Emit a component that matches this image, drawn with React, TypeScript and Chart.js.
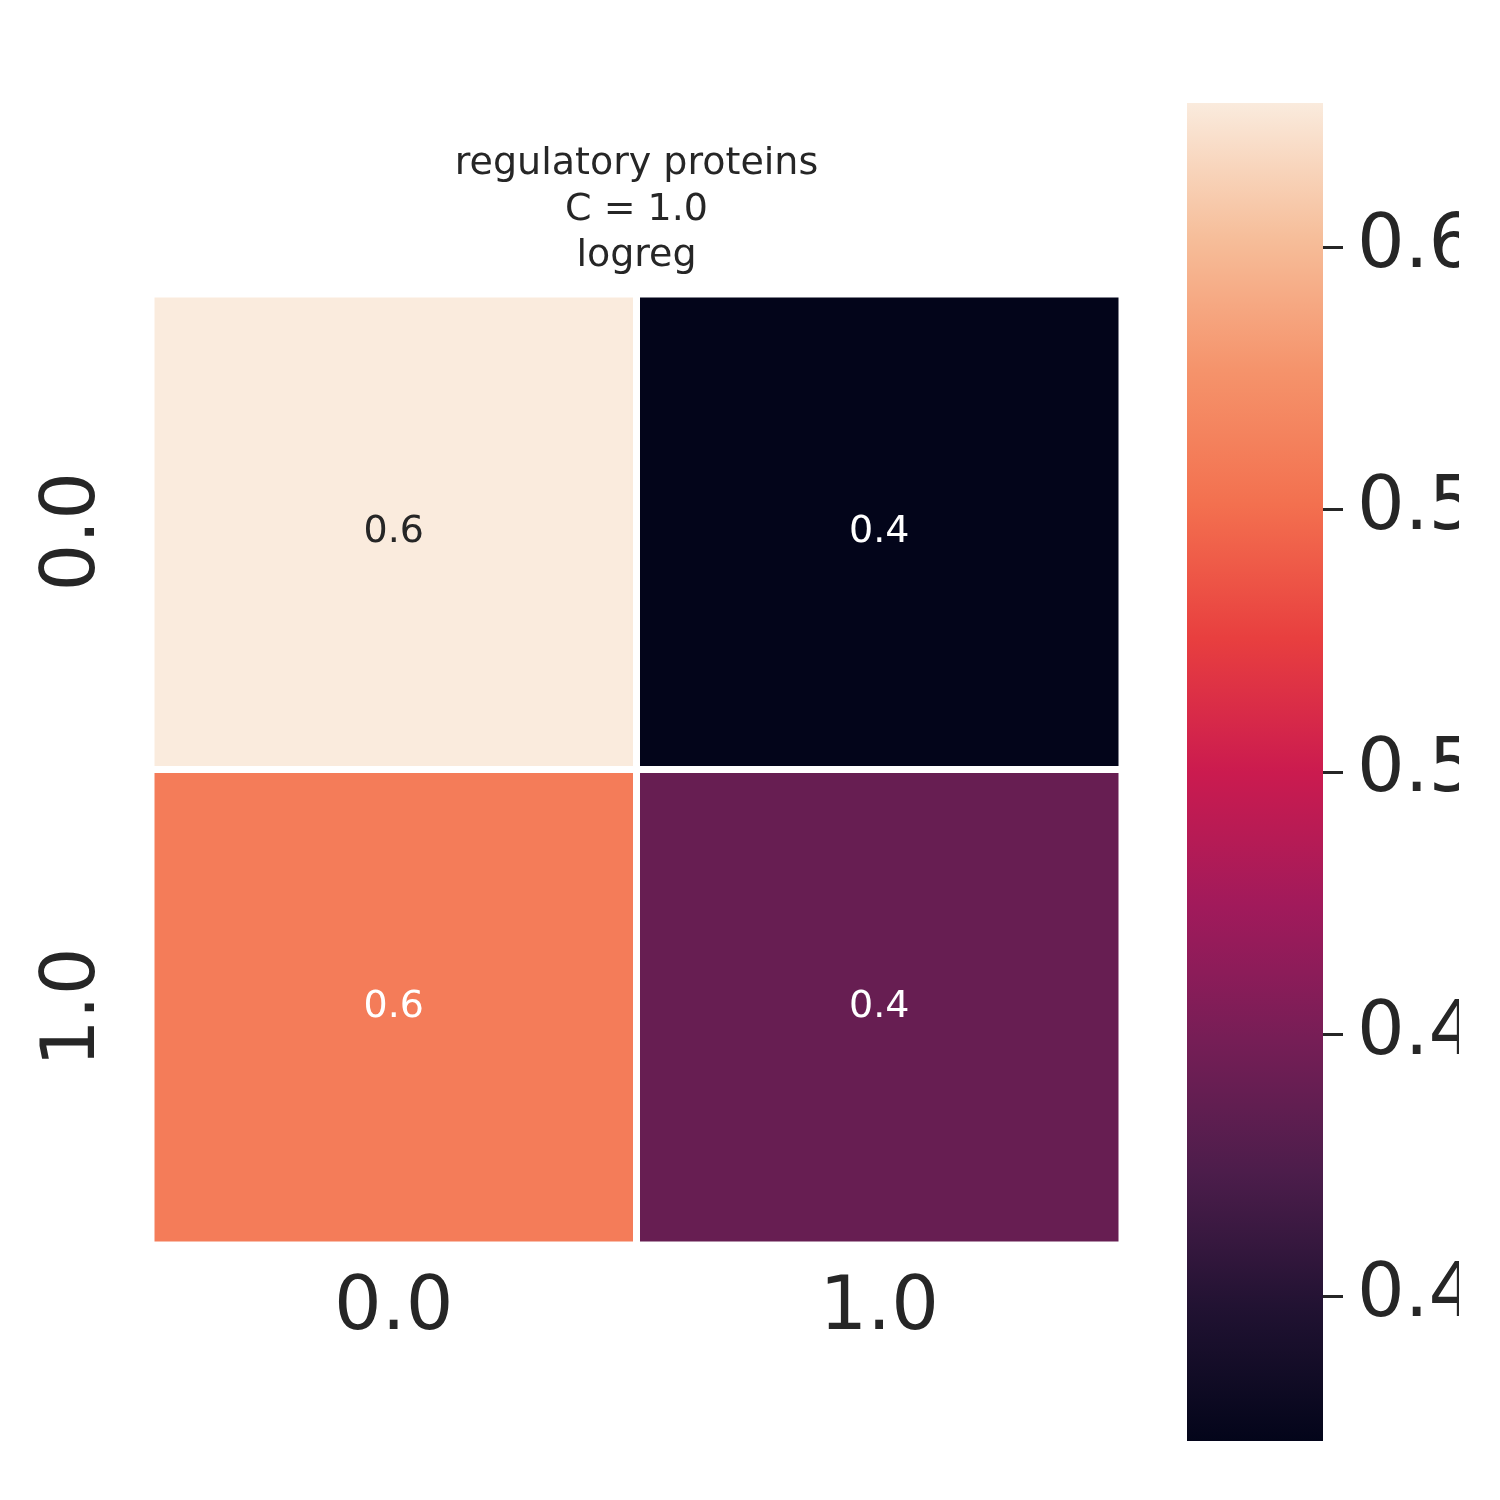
import { useEffect, useRef } from "react";
import { Chart, registerables } from "chart.js";

Chart.register(...registerables);

const xLabels = ["0.0", "1.0"];
const yLabels = ["0.0", "1.0"];
const cellValues = [
  [0.6276, 0.3724],
  [0.56, 0.44],
];
const cellText = [
  ["0.6", "0.4"],
  ["0.6", "0.4"],
];
const titleLines = ["regulatory proteins", "C = 1.0", "logreg"];
const vmin = 0.3724;
const vmax = 0.6276;
const cbTicks = [0.4, 0.45, 0.5, 0.55, 0.6];

const ROCKET: Array<[number, [number, number, number]]> = [
  [0.0, [3, 5, 26]],
  [0.1, [33, 18, 50]],
  [0.2, [76, 29, 75]],
  [0.3, [118, 30, 86]],
  [0.4, [161, 26, 91]],
  [0.5, [203, 27, 79]],
  [0.6, [232, 63, 63]],
  [0.7, [243, 112, 79]],
  [0.8, [245, 147, 107]],
  [0.9, [246, 190, 154]],
  [1.0, [250, 235, 221]],
];

function rocket(t: number): string {
  t = Math.max(0, Math.min(1, t));
  for (let i = 1; i < ROCKET.length; i++) {
    const [t1, c1] = ROCKET[i];
    const [t0, c0] = ROCKET[i - 1];
    if (t <= t1) {
      const f = (t - t0) / (t1 - t0);
      const c = c0.map((v, k) => Math.round(v + (c1[k] - v) * f));
      return `rgb(${c[0]},${c[1]},${c[2]})`;
    }
  }
  return "rgb(250,235,221)";
}

const FONT = "'DejaVu Sans', sans-serif";

export default function App() {
  const mainRef = useRef<HTMLCanvasElement>(null);
  const cbRef = useRef<HTMLCanvasElement>(null);

  useEffect(() => {
    if (!mainRef.current || !cbRef.current) return;

    const heatPlugin = {
      id: "heat",
      beforeDatasetsDraw(chart: any) {
        const { ctx, scales } = chart;
        const xs = scales.x;
        const ys = scales.y;
        ctx.save();
        cellValues.forEach((row, r) => {
          row.forEach((v, c) => {
            const x0 = xs.getPixelForValue(c);
            const x1 = xs.getPixelForValue(c + 1);
            const y0 = ys.getPixelForValue(r);
            const y1 = ys.getPixelForValue(r + 1);
            const t = (v - vmin) / (vmax - vmin);
            ctx.fillStyle = rocket(t);
            ctx.fillRect(x0, y0, x1 - x0, y1 - y0);
            ctx.strokeStyle = "#ffffff";
            ctx.lineWidth = 7;
            ctx.strokeRect(x0, y0, x1 - x0, y1 - y0);
            ctx.fillStyle = t > 0.85 ? "#262626" : "#ffffff";
            ctx.font = `38px ${FONT}`;
            ctx.textAlign = "center";
            ctx.textBaseline = "middle";
            ctx.fillText(cellText[r][c], (x0 + x1) / 2, (y0 + y1) / 2);
          });
        });
        // y tick labels, rotated
        ctx.fillStyle = "#262626";
        ctx.font = `75px ${FONT}`;
        yLabels.forEach((lab, i) => {
          ctx.save();
          ctx.translate(75, ys.getPixelForValue(i + 0.5));
          ctx.rotate(-Math.PI / 2);
          ctx.fillText(lab, 0, 0);
          ctx.restore();
        });
        // title
        ctx.font = `38px ${FONT}`;
        const cx = (chart.chartArea.left + chart.chartArea.right) / 2;
        titleLines.forEach((line, i) => {
          ctx.fillText(line, cx, 164 + i * 46);
        });
        ctx.restore();
      },
    };

    const main = new Chart(mainRef.current, {
      type: "scatter",
      data: {
        datasets: [
          {
            data: [{ x: 0.5, y: 0.5 }],
            pointRadius: 0,
          },
        ],
      },
      options: {
        responsive: false,
        animation: false,
        layout: { padding: { left: 151, right: 378, top: 294, bottom: 125 } },
        plugins: { legend: { display: false }, tooltip: { enabled: false } },
        scales: {
          x: {
            type: "linear",
            min: 0,
            max: 2,
            afterBuildTicks: (s: any) => {
              s.ticks = xLabels.map((_, i) => ({ value: i + 0.5 }));
            },
            ticks: {
              callback: (v: any) => xLabels[Math.floor(Number(v))],
              font: { size: 75, family: FONT },
              color: "#262626",
              padding: 20,
              maxRotation: 0,
            },
            grid: { display: false, drawTicks: false },
            border: { display: false },
          },
          y: {
            type: "linear",
            min: 0,
            max: 2,
            reverse: true,
            display: false,
          },
        },
      },
      plugins: [heatPlugin],
    });

    const cbPlugin = {
      id: "cbfill",
      beforeDatasetsDraw(chart: any) {
        const { ctx, chartArea, scales } = chart;
        const ys = scales.y;
        ctx.save();
        const top = ys.getPixelForValue(vmax);
        const bot = ys.getPixelForValue(vmin);
        const g = ctx.createLinearGradient(0, bot, 0, top);
        for (let i = 0; i <= 20; i++) g.addColorStop(i / 20, rocket(i / 20));
        ctx.fillStyle = g;
        ctx.fillRect(chartArea.left, top, chartArea.right - chartArea.left, bot - top);
        ctx.restore();
      },
    };

    const cb = new Chart(cbRef.current, {
      type: "scatter",
      data: { datasets: [{ data: [], pointRadius: 0 }] },
      options: {
        responsive: false,
        animation: false,
        layout: { padding: { left: 1187, right: 41, top: 103, bottom: 48 } },
        plugins: { legend: { display: false }, tooltip: { enabled: false } },
        scales: {
          x: { display: false, min: 0, max: 1 },
          y: {
            position: "right",
            min: vmin,
            max: vmax,
            afterBuildTicks: (s: any) => {
              s.ticks = cbTicks.map((v) => ({ value: v }));
            },
            ticks: {
              callback: (v: any) => Number(v).toFixed(2),
              font: { size: 75, family: FONT },
              color: "#262626",
              padding: 14,
            },
            grid: {
              drawOnChartArea: false,
              tickLength: 20,
              tickWidth: 3,
              color: "#262626",
            },
            border: { display: false },
          },
        },
      },
      plugins: [cbPlugin],
    });

    return () => {
      main.destroy();
      cb.destroy();
    };
  }, []);

  return (
    <div style={{ position: "fixed", left: 0, top: 0, width: 1500, height: 1500, background: "#fff" }}>
      <canvas ref={mainRef} width={1500} height={1500} style={{ position: "absolute", left: 0, top: 0 }} />
      <canvas ref={cbRef} width={1500} height={1500} style={{ position: "absolute", left: 0, top: 0 }} />
    </div>
  );
}
